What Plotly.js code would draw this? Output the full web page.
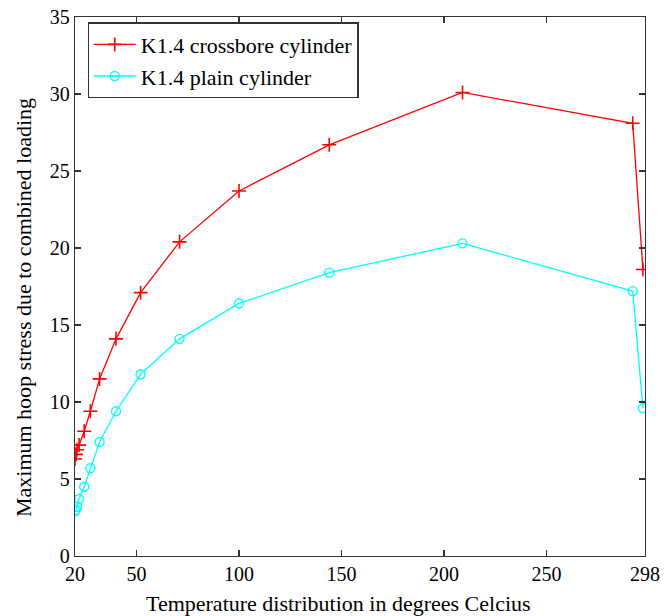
<!DOCTYPE html>
<html>
<head>
<meta charset="utf-8">
<script src="https://cdn.plot.ly/plotly-3.0.1.min.js"></script>
<style>html,body{margin:0;padding:0;background:#fff;}#chart{width:670px;height:616px;}</style>
</head>
<body>
<div id="chart"></div>
<script>
const temperature = [20, 20.5, 21, 22, 24.5, 27.5, 32, 40, 52, 71, 100, 144, 209, 292, 297];
const crossboreStress = [6.3, 6.6, 6.9, 7.2, 8.1, 9.4, 11.5, 14.1, 17.1, 20.4, 23.7, 26.7, 30.1, 28.1, 18.6];
const plainStress = [2.9, 3.0, 3.2, 3.7, 4.5, 5.7, 7.4, 9.4, 11.8, 14.1, 16.4, 18.4, 20.3, 17.2, 9.6];
const xTicks = [20, 50, 100, 150, 200, 250, 298];
const yTicks = [0, 5, 10, 15, 20, 25, 30, 35];
const xTitle = 'Temperature distribution in degrees Celcius';
const yTitle = 'Maximum hoop stress due to combined loading';

const fam = 'Liberation Serif, Times New Roman, serif';
const tickFont = {family: fam, size: 20, color: '#000'};
const bigFont = {family: fam, size: 22, color: '#000'};

const traces = [
  {
    x: temperature, y: crossboreStress, type: 'scatter', mode: 'lines+markers',
    name: 'K1.4 crossbore cylinder',
    line: {color: '#ff0000', width: 1.3},
    marker: {symbol: 'cross-thin-open', size: 10, color: '#ff0000', line: {color: '#ff0000', width: 1.6}}
  },
  {
    x: temperature, y: plainStress, type: 'scatter', mode: 'lines+markers',
    name: 'K1.4 plain cylinder',
    line: {color: '#00ffff', width: 1.3},
    marker: {symbol: 'circle-open', size: 9, color: '#00ffff', line: {color: '#00ffff', width: 1.4}}
  }
];

const axisCommon = {
  showgrid: false, zeroline: false, showline: true, linecolor: '#333', linewidth: 1.2,
  mirror: 'ticks', ticks: 'inside', ticklen: 6, tickcolor: '#333', tickwidth: 1.2,
  tickfont: tickFont
};

const layout = {
  width: 670, height: 616,
  margin: {l: 75, r: 25, t: 17, b: 60},
  paper_bgcolor: '#fff', plot_bgcolor: '#fff',
  font: tickFont,
  showlegend: true,
  legend: {
    x: 0.022, y: 0.99, xanchor: 'left', yanchor: 'top',
    bgcolor: '#fff', bordercolor: '#333', borderwidth: 1.2,
    font: bigFont, tracegroupgap: 0, itemwidth: 42
  },
  xaxis: Object.assign({}, axisCommon, {
    range: [20, 298], tickmode: 'array', tickvals: xTicks, ticktext: xTicks.map(String)
  }),
  yaxis: Object.assign({}, axisCommon, {
    range: [0, 35], tickmode: 'array', tickvals: yTicks, ticktext: yTicks.map(String)
  }),
  annotations: [
    {text: xTitle, xref: 'paper', yref: 'paper', x: 0.463, y: 0, yshift: -47,
     xanchor: 'center', yanchor: 'middle', showarrow: false, font: bigFont},
    {text: yTitle, xref: 'paper', yref: 'paper', x: 0, xshift: -52, y: 0.46,
     xanchor: 'center', yanchor: 'middle', textangle: -90, showarrow: false, font: bigFont}
  ]
};

Plotly.newPlot('chart', traces, layout, {displayModeBar: false, staticPlot: true});
</script>
</body>
</html>
